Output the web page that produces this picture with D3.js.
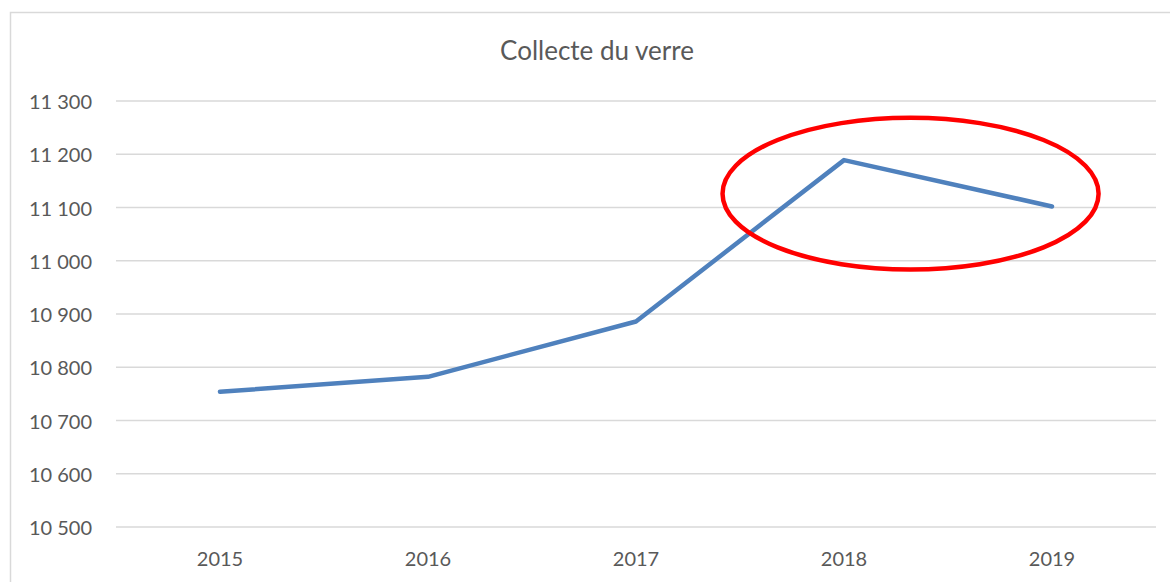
<!DOCTYPE html>
<html>
<head>
<meta charset="utf-8">
<script src="https://cdn.jsdelivr.net/npm/d3@7"></script>
<style>
  body { margin: 0; background: #fff; }
  svg { display: block; font-family: Lato, "Open Sans", sans-serif; }
</style>
</head>
<body>
<div id="chart"></div>
<script>
const years = ["2015", "2016", "2017", "2018", "2019"];
const tonnes = [10754, 10782, 10886, 11189, 11102];
const yTicks = [10500, 10600, 10700, 10800, 10900, 11000, 11100, 11200, 11300];
const title = "Collecte du verre";
// highlight around the last two years: center (category index, value), radii
const highlight = { cx: 3.32, cy: 11126, rx: 0.904, ry: 142.5 };

const width = 1170, height = 582;
const margin = { top: 101, right: 14, bottom: 55, left: 116 };

const svg = d3.select("#chart")
  .append("svg")
    .attr("width", width)
    .attr("height", height);

// chart frame
svg.append("rect")
  .attr("x", 10.5).attr("y", 12.5)
  .attr("width", width + 20).attr("height", height + 20)
  .attr("fill", "none")
  .attr("stroke", "#d9d9d9")
  .attr("stroke-width", 1.5);

const x = d3.scaleLinear()
  .domain([-0.5, years.length - 0.5])
  .range([margin.left, width - margin.right]);

const y = d3.scaleLinear()
  .domain([10500, 11300])
  .range([height - margin.bottom, margin.top]);

// gridlines
svg.append("g")
  .selectAll("line")
  .data(yTicks)
  .join("line")
    .attr("x1", x(-0.5)).attr("x2", x(years.length - 0.5))
    .attr("y1", d => y(d)).attr("y2", d => y(d))
    .attr("stroke", "#d9d9d9")
    .attr("stroke-width", 1.5);

const fmt = d => d3.format(",")(d).replace(",", " ");

svg.append("g")
  .selectAll("text")
  .data(yTicks)
  .join("text")
    .attr("x", 92)
    .attr("y", d => y(d))
    .attr("text-anchor", "end")
    .attr("dominant-baseline", "central")
    .attr("fill", "#595959")
    .style("font-size", "20px")
    .text(fmt);

svg.append("g")
  .selectAll("text")
  .data(years)
  .join("text")
    .attr("x", (d, i) => x(i))
    .attr("y", 558)
    .attr("text-anchor", "middle")
    .attr("dominant-baseline", "central")
    .attr("fill", "#595959")
    .style("font-size", "20px")
    .text(d => d);

svg.append("text")
  .attr("x", 597)
  .attr("y", 50)
  .attr("text-anchor", "middle")
  .attr("dominant-baseline", "central")
  .attr("fill", "#595959")
  .style("font-size", "26px")
  .text(title);

const line = d3.line()
  .x((d, i) => x(i))
  .y(d => y(d));

svg.append("path")
  .datum(tonnes)
  .attr("d", line)
  .attr("fill", "none")
  .attr("stroke", "#4f81bd")
  .attr("stroke-width", 4.5)
  .attr("stroke-linecap", "round")
  .attr("stroke-linejoin", "round");

svg.append("ellipse")
  .attr("cx", x(highlight.cx))
  .attr("cy", y(highlight.cy))
  .attr("rx", x(highlight.rx) - x(0))
  .attr("ry", y(0) - y(highlight.ry))
  .attr("fill", "none")
  .attr("stroke", "#ff0000")
  .attr("stroke-width", 4.5);
</script>
</body>
</html>
